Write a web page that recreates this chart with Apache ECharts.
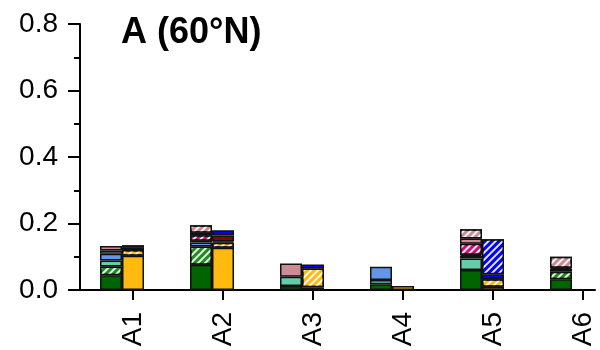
<!DOCTYPE html>
<html>
<head>
<meta charset="utf-8">
<script src="https://cdn.jsdelivr.net/npm/echarts@6/dist/echarts.min.js"></script>
<style>
  html, body { margin: 0; padding: 0; background: #fff; }
  #chart { width: 600px; height: 350px; }
</style>
</head>
<body>
<div id="chart"></div>
<script>
// Sites along the x axis
const categories = ['A1', 'A2', 'A3', 'A4', 'A5', 'A6'];

// Left column of each site, stacked bottom to top
const darkGreen     = [0.044, 0.076, 0.012, 0.017, 0.060, 0.032];
const greenHatch    = [0.027, 0.055, 0.000, 0.000, 0.000, 0.023];
const aquamarine    = [0.018, 0.000, 0.028, 0.013, 0.035, 0.009];
const cornflower    = [0.020, 0.012, 0.000, 0.040, 0.008, 0.000];
const whiteLeft     = [0.010, 0.005, 0.000, 0.000, 0.003, 0.000];
const magentaHatch  = [0.000, 0.017, 0.000, 0.000, 0.033, 0.000];
const rosy          = [0.013, 0.007, 0.040, 0.000, 0.016, 0.003];
const rosyHatch     = [0.000, 0.023, 0.000, 0.000, 0.028, 0.033];

// Right column of each site, stacked bottom to top
const gold          = [0.103, 0.127, 0.008, 0.012, 0.010, 0.000];
const goldHatch     = [0.017, 0.015, 0.057, 0.000, 0.022, 0.000];
const whiteRight    = [0.009, 0.004, 0.000, 0.000, 0.000, 0.000];
const darkRed       = [0.006, 0.018, 0.000, 0.000, 0.000, 0.000];
const blue          = [0.000, 0.016, 0.012, 0.000, 0.015, 0.000];
const blueHatch     = [0.000, 0.000, 0.000, 0.000, 0.106, 0.000];

// y-axis range
const yMin = 0, yMax = 0.8, yStep = 0.2;

const FONT = '"Liberation Sans", Arial, Helvetica, sans-serif';

// white diagonal stripes laid over the fill colour
const hatch = {
  symbol: 'rect',
  symbolSize: 1,
  dashArrayX: [1, 0],
  dashArrayY: [1.6, 2.6],
  rotation: -Math.PI / 4,
  color: 'rgba(255,255,255,0.9)'
};

const leftSegments = [
  { name: 'darkGreen',    values: darkGreen,    color: '#006400' },
  { name: 'greenHatch',   values: greenHatch,   color: '#228B22', hatched: true },
  { name: 'aquamarine',   values: aquamarine,   color: '#66CDAA' },
  { name: 'cornflower',   values: cornflower,   color: '#6495ED' },
  { name: 'whiteLeft',    values: whiteLeft,    color: '#FFFFFF' },
  { name: 'magentaHatch', values: magentaHatch, color: '#CD1076', hatched: true },
  { name: 'rosy',         values: rosy,         color: '#CD8C95' },
  { name: 'rosyHatch',    values: rosyHatch,    color: '#CD8C95', hatched: true }
];
const rightSegments = [
  { name: 'gold',       values: gold,       color: '#FFB90F' },
  { name: 'goldHatch',  values: goldHatch,  color: '#FFB90F', hatched: true },
  { name: 'whiteRight', values: whiteRight, color: '#FFFFFF' },
  { name: 'darkRed',    values: darkRed,    color: '#8B0000' },
  { name: 'blue',       values: blue,       color: '#0000FF' },
  { name: 'blueHatch',  values: blueHatch,  color: '#0000FF', hatched: true }
];

// Layout: one frame grid carries the visible axes, a second grid of 90px
// bands carries the bars (left + right column per site, centred on the band).
const PLOT_LEFT = 80, PLOT_RIGHT = 5, PLOT_TOP = 24, PLOT_BOTTOM = 60;
const BAND = 90, BAR_W = 22;
const barGridLeft = 77;
const barGridRight = 600 - (barGridLeft + BAND * categories.length);

// frame x axis: site i at value i+1, right column centred on the tick
const sitePos = categories.map((c, i) => i + 1);
const xFrameMin = 1 - (barGridLeft + BAND / 2 + BAR_W / 2 - PLOT_LEFT) / BAND;
const xFrameMax = xFrameMin + (600 - PLOT_LEFT - PLOT_RIGHT) / BAND;

function makeSeries(seg, stackName) {
  const itemStyle = { color: seg.color, borderColor: '#111', borderWidth: 1.5 };
  if (seg.hatched) itemStyle.decal = hatch;
  return {
    name: seg.name,
    type: 'bar',
    xAxisIndex: 1,
    yAxisIndex: 1,
    stack: stackName,
    barWidth: BAR_W,
    barGap: '0%',
    data: seg.values.map(v => (v > 0 ? v : null)),
    itemStyle: itemStyle,
    emphasis: { disabled: true }
  };
}

const series = leftSegments.map(s => makeSeries(s, 'left'))
  .concat(rightSegments.map(s => makeSeries(s, 'right')));

const axisLineStyle = { color: '#000', width: 2 };

const chart = echarts.init(document.getElementById('chart'), null, { renderer: 'canvas' });
chart.setOption({
  animation: false,
  backgroundColor: '#fff',
  title: {
    text: 'A (60°N)',
    left: 116,
    top: 10,
    textStyle: { fontFamily: FONT, fontSize: 36, fontWeight: 'bold', color: '#000' }
  },
  grid: [
    { left: PLOT_LEFT, right: PLOT_RIGHT, top: PLOT_TOP, bottom: PLOT_BOTTOM, containLabel: false, outerBoundsMode: 'none' },
    { left: barGridLeft, right: barGridRight, top: PLOT_TOP, bottom: PLOT_BOTTOM, containLabel: false, outerBoundsMode: 'none' }
  ],
  xAxis: [
    {
      gridIndex: 0,
      type: 'value',
      min: xFrameMin,
      max: xFrameMax,
      axisLine: { show: true, onZero: false, lineStyle: axisLineStyle },
      axisTick: { show: true, length: 10, customValues: sitePos, lineStyle: axisLineStyle },
      axisLabel: {
        customValues: sitePos,
        rotate: 90,
        margin: 22,
        formatter: v => categories[Math.round(v) - 1],
        fontFamily: FONT,
        fontSize: 28,
        color: '#000'
      },
      splitLine: { show: false }
    },
    {
      gridIndex: 1,
      type: 'category',
      data: categories,
      show: false
    }
  ],
  yAxis: [
    {
      gridIndex: 0,
      type: 'value',
      min: yMin,
      max: yMax,
      interval: yStep,
      axisLine: { show: true, lineStyle: axisLineStyle },
      axisTick: { show: true, length: 12, lineStyle: axisLineStyle },
      minorTick: { show: true, splitNumber: 2, length: 6, lineStyle: axisLineStyle },
      splitLine: { show: false },
      minorSplitLine: { show: false },
      axisLabel: {
        formatter: v => v.toFixed(1),
        margin: 22,
        fontFamily: FONT,
        fontSize: 28,
        color: '#000'
      }
    },
    {
      gridIndex: 1,
      type: 'value',
      min: yMin,
      max: yMax,
      show: false,
      splitLine: { show: false }
    }
  ],
  series: series
});
</script>
</body>
</html>
